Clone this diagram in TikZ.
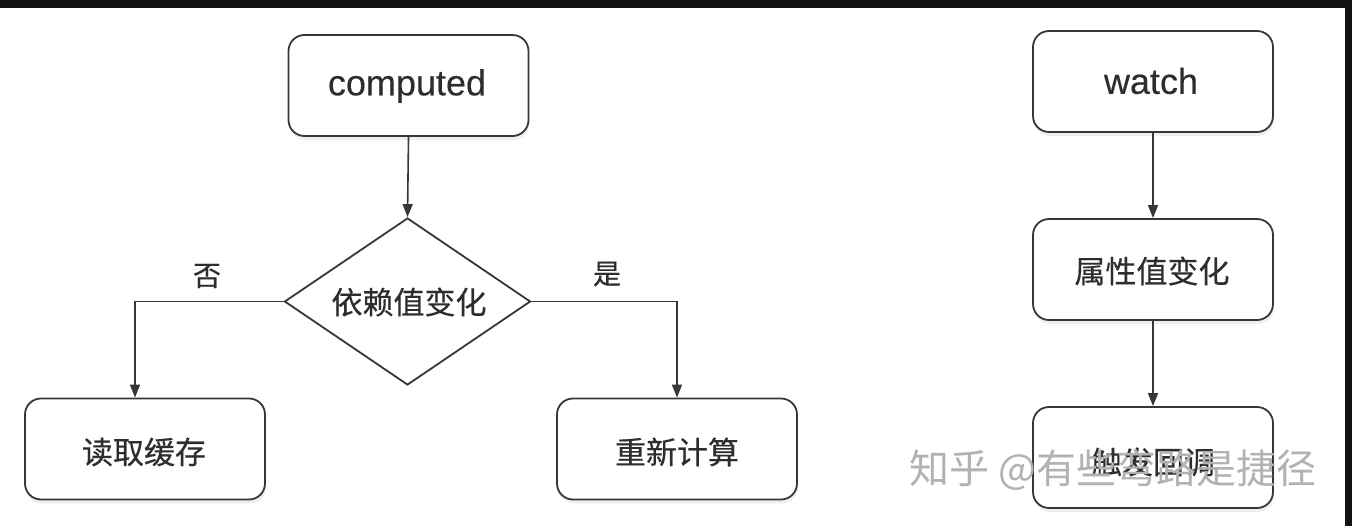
\documentclass[tikz,border=0pt]{standalone}
\usepackage{fontspec}
\setmainfont{Noto Sans CJK SC}
\newfontfamily\cjkfont[FakeBold=0.4]{Noto Sans CJK SC}
\newfontfamily\latfont[FakeBold=0.3]{Liberation Sans}
\usetikzlibrary{shapes.geometric,arrows.meta,shadows}
\definecolor{ink}{RGB}{45,45,45}
\definecolor{edge}{RGB}{55,55,55}
\definecolor{wm}{RGB}{178,178,178}
\tikzset{
  boxnode/.style={draw=edge, line width=1.8pt, rounded corners=16pt, fill=white,
    minimum width=240pt, minimum height=101pt, inner sep=0pt,
    drop shadow={opacity=0.12, shadow xshift=1pt, shadow yshift=-4pt}},
  txt/.style={text=ink, font=\cjkfont\fontsize{31}{36}\selectfont, inner sep=0pt},
  ltxt/.style={text=ink, font=\latfont\fontsize{36}{40}\selectfont, inner sep=0pt},
  lbl/.style={text=ink, font=\cjkfont\fontsize{28}{32}\selectfont, inner sep=0pt},
  conn/.style={draw=edge, line width=1.6pt, -{Triangle[length=13pt,width=10pt]}},
}
\begin{document}
\begin{tikzpicture}[x=1pt,y=-1pt]
\useasboundingbox (0,0) rectangle (1352,526);
\fill[white] (0,0) rectangle (1352,526);
\fill[black!93] (0,0) rectangle (1352,8);
\fill[black!93] (1345,0) rectangle (1352,526);

% computed flow
\node[boxnode] (comp) at (408.5,85.5) {};
\node[ltxt] (compt) at (407,86) {computed};
\node[diamond, draw=edge, line width=1.8pt, fill=white, minimum width=246pt, minimum height=167pt, inner sep=0pt] (dec) at (407.5,301.5) {};
\node[txt] (dect) at (409,302) {依赖值变化};
\node[boxnode] (cache) at (145,449) {};
\node[txt] (cachet) at (144,452) {读取缓存};
\node[boxnode] (recalc) at (677,449) {};
\node[txt] (recalct) at (677,452) {重新计算};
\node[lbl] (no) at (207,276) {否};
\node[lbl] (yes) at (607,274) {是};

\draw[conn] (comp.south) -- (dec.north);
\draw[conn] (dec.west) -| ([xshift=-10pt]cache.north);
\draw[conn] (dec.east) -| (recalc.north);

% watch flow
\node[boxnode] (watch) at (1153,81.5) {};
\node[ltxt] (watcht) at (1151,81) {watch};
\node[boxnode] (attr) at (1153,269.5) {};
\node[txt] (attrt) at (1152,271) {属性值变化};
\node[boxnode] (cb) at (1153,457.5) {};
\node[txt] (cbt) at (1153,462) {触发回调};

\draw[conn] (watch.south) -- (attr.north);
\draw[conn] (attr.south) -- (cb.north);

% watermark
\node[text=wm, font=\fontsize{40}{44}\selectfont, inner sep=0pt, anchor=west] (mark) at (909,470) {知乎 @有些弯路是捷径};
\end{tikzpicture}
\end{document}
